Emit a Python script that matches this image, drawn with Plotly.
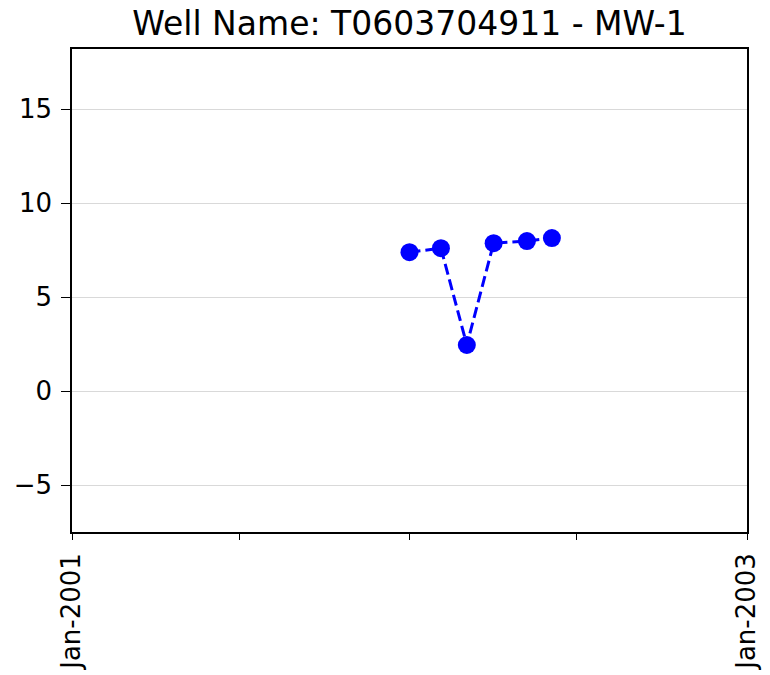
import plotly.graph_objects as go

# sample dates and measured values for the well
sample_dates = ['2002-01-01', '2002-02-04', '2002-03-04', '2002-04-02', '2002-05-08', '2002-06-04']
sample_values = [7.39, 7.6, 2.45, 7.87, 7.98, 8.14]

tick_dates = ['2001-01-01', '2001-07-01', '2002-01-01', '2002-07-01', '2003-01-01']
tick_labels = ['Jan-2001', '', '', '', 'Jan-2003']

fig = go.Figure()

fig.add_trace(go.Scatter(
    x=sample_dates,
    y=sample_values,
    mode='lines+markers',
    line=dict(color='#0000ff', width=3, dash='11px,5px'),
    marker=dict(color='#0000ff', size=18),
    showlegend=False,
))

fig.update_layout(
    width=770,
    height=675,
    margin=dict(l=72, r=23, t=49, b=143),
    plot_bgcolor='white',
    paper_bgcolor='white',
    font=dict(family='DejaVu Sans', size=26, color='black'),
    title=dict(
        text='Well Name: T0603704911 - MW-1',
        x=(72 + 747) / 2 / 770,
        xanchor='center',
        y=1 - 23 / 675,
        yanchor='middle',
        font=dict(size=33),
    ),
)

fig.update_xaxes(
    range=['2001-01-01', '2003-01-01'],
    tickvals=tick_dates,
    ticktext=tick_labels,
    tickangle=-90,
    ticks='outside',
    ticklen=6,
    tickwidth=1.3,
    tickcolor='black',
    ticklabelstandoff=3,
    automargin=False,
    showgrid=False,
    showline=True,
    linecolor='black',
    linewidth=1.5,
    mirror=True,
    zeroline=False,
)

fig.update_yaxes(
    range=[-7.5, 18.2],
    tickvals=[-5, 0, 5, 10, 15],
    ticks='outside',
    ticklen=9,
    tickwidth=1.3,
    tickcolor='black',
    ticklabelstandoff=4,
    automargin=False,
    showgrid=True,
    gridcolor='#d9d9d9',
    gridwidth=1.3,
    showline=True,
    linecolor='black',
    linewidth=1.5,
    mirror=True,
    zeroline=False,
)

# drop the default body margin so the figure sits at the page corner
fig.write_html('out.html', config={'displayModeBar': False},
               post_script="document.body.style.margin='0';")
